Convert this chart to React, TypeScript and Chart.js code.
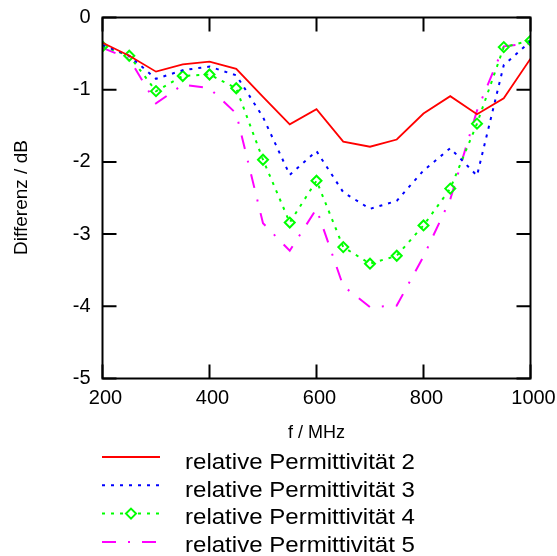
import React, { useEffect, useRef } from "react";
import { Chart, registerables } from "chart.js";

Chart.register(...registerables);

const freqs = [200, 250, 300, 350, 400, 450, 500, 550, 600, 650, 700, 750, 800, 850, 900, 950, 1000];
const eps2 = [-0.35, -0.53, -0.75, -0.65, -0.61, -0.71, -1.1, -1.48, -1.27, -1.72, -1.79, -1.69, -1.33, -1.09, -1.34, -1.12, -0.57];
const eps3 = [-0.38, -0.53, -0.85, -0.73, -0.68, -0.8, -1.38, -2.18, -1.85, -2.42, -2.65, -2.54, -2.12, -1.81, -2.19, -0.66, -0.33];
const eps4 = [-0.4, -0.53, -1.02, -0.81, -0.79, -0.98, -1.97, -2.84, -2.26, -3.18, -3.41, -3.3, -2.88, -2.37, -1.47, -0.41, -0.32];
const eps5 = [-0.42, -0.57, -1.19, -0.93, -0.98, -1.33, -2.85, -3.23, -2.65, -3.72, -4.01, -3.99, -3.31, -2.52, -1.29, -0.4, -0.36];
const seriesNames = [
  "relative Permittivität 2",
  "relative Permittivität 3",
  "relative Permittivität 4",
  "relative Permittivität 5",
];
const xTitle = "f / MHz";
const yTitle = "Differenz / dB";

const FONT = "'Liberation Sans', Arial, Helvetica, sans-serif";

const framePlugin = {
  id: "frameAndLegend",
  afterDatasetsDraw(chart: any) {
    const { ctx, chartArea } = chart;
    const { left, right, top, bottom } = chartArea;
    const xs = chart.scales.x;
    const ys = chart.scales.y;
    ctx.save();
    ctx.strokeStyle = "#000";
    ctx.lineWidth = 2;
    ctx.setLineDash([]);
    ctx.strokeRect(left, top, right - left, bottom - top);
    const tl = 14;
    ctx.beginPath();
    xs.ticks.forEach((t: any) => {
      const px = xs.getPixelForValue(t.value);
      ctx.moveTo(px, bottom);
      ctx.lineTo(px, bottom - tl);
      ctx.moveTo(px, top);
      ctx.lineTo(px, top + tl);
    });
    ys.ticks.forEach((t: any) => {
      const py = ys.getPixelForValue(t.value);
      ctx.moveTo(left, py);
      ctx.lineTo(left + tl, py);
      ctx.moveTo(right, py);
      ctx.lineTo(right - tl, py);
    });
    ctx.stroke();
    ctx.restore();
  },
  afterDraw(chart: any) {
    const { ctx, chartArea } = chart;
    ctx.save();
    ctx.fillStyle = "#000";
    ctx.font = `18px ${FONT}`;
    ctx.textAlign = "center";
    ctx.textBaseline = "alphabetic";
    ctx.fillText(xTitle, (chartArea.left + chartArea.right) / 2, 438);
    ctx.save();
    ctx.translate(27, 197.5);
    ctx.rotate(-Math.PI / 2);
    ctx.font = `19px ${FONT}`;
    ctx.fillText(yTitle, 0, 0);
    ctx.restore();

    const datasets = chart.data.datasets;
    datasets.forEach((ds: any, i: number) => {
      const ly = 457 + 28.3 * i;
      ctx.save();
      ctx.strokeStyle = ds.borderColor;
      ctx.lineWidth = 2;
      ctx.setLineDash(ds.borderDash || []);
      ctx.beginPath();
      ctx.moveTo(102, ly);
      ctx.lineTo(160, ly);
      ctx.stroke();
      if (ds.pointRadius > 0) {
        ctx.setLineDash([]);
        ctx.fillStyle = "#fff";
        const r = 5;
        const cx = 131;
        ctx.beginPath();
        ctx.moveTo(cx, ly - r);
        ctx.lineTo(cx + r, ly);
        ctx.lineTo(cx, ly + r);
        ctx.lineTo(cx - r, ly);
        ctx.closePath();
        ctx.fill();
        ctx.stroke();
      }
      ctx.restore();
      ctx.save();
      ctx.fillStyle = "#000";
      ctx.font = `22px ${FONT}`;
      ctx.textAlign = "left";
      ctx.textBaseline = "alphabetic";
      ctx.translate(185, 469.3 + 27.5 * i);
      const w = ctx.measureText(ds.label).width;
      ctx.scale(230 / w, 1);
      ctx.fillText(ds.label, 0, 0);
      ctx.restore();
    });
    ctx.restore();
  },
};

const zeroPad = (s: any) => {
  s.paddingLeft = 0;
  s.paddingRight = 0;
  s.paddingTop = 0;
  s.paddingBottom = 0;
};

export default function App() {
  const ref = useRef<HTMLCanvasElement | null>(null);
  useEffect(() => {
    if (!ref.current) return;
    const mk = (arr: number[]) => freqs.map((f, i) => ({ x: f, y: arr[i] }));
    const chart = new Chart(ref.current, {
      type: "line",
      data: {
        datasets: [
          {
            label: seriesNames[0],
            data: mk(eps2),
            borderColor: "#ff0000",
            borderWidth: 1.8,
            pointRadius: 0,
            fill: false,
            tension: 0,
          },
          {
            label: seriesNames[1],
            data: mk(eps3),
            borderColor: "#0000ff",
            borderWidth: 2,
            borderDash: [3, 6],
            pointRadius: 0,
            fill: false,
            tension: 0,
          },
          {
            label: seriesNames[2],
            data: mk(eps4),
            borderColor: "#00ff00",
            borderWidth: 2,
            borderDash: [3, 6],
            pointRadius: 5,
            pointStyle: "rectRot",
            pointBorderWidth: 2,
            pointBackgroundColor: "rgba(255,255,255,0)",
            pointBorderColor: "#00ff00",
            fill: false,
            tension: 0,
          },
          {
            label: seriesNames[3],
            data: mk(eps5),
            borderColor: "#ff00ff",
            borderWidth: 2,
            borderDash: [14, 12, 2, 12],
            pointRadius: 0,
            fill: false,
            tension: 0,
          },
        ] as any,
      },
      options: {
        animation: false,
        responsive: false,
        maintainAspectRatio: false,
        events: [],
        layout: { padding: { left: 0, right: 26.5, top: 17.5, bottom: 0 } },
        plugins: {
          legend: { display: false },
          tooltip: { enabled: false },
          title: { display: false },
        },
        scales: {
          x: {
            type: "linear",
            min: 200,
            max: 1000,
            grid: { display: false, drawTicks: false },
            border: { display: false },
            ticks: {
              stepSize: 200,
              color: "#000",
              font: { size: 20, family: FONT },
              padding: 8,
              labelOffset: 3,
              maxRotation: 0,
              autoSkip: false,
              callback: (v: any) => String(v),
            },
            afterFit: (s: any) => {
              s.height = 556 - 378.5;
              zeroPad(s);
            },
          },
          y: {
            type: "linear",
            min: -5,
            max: 0,
            grid: { display: false, drawTicks: false },
            border: { display: false },
            ticks: {
              stepSize: 1,
              color: "#000",
              font: { size: 20, family: FONT },
              padding: 12,
              callback: (v: any) => String(v),
            },
            afterFit: (s: any) => {
              s.width = 102.5;
              zeroPad(s);
            },
          },
        },
      } as any,
      plugins: [framePlugin],
    });
    return () => chart.destroy();
  }, []);
  return (
    <div style={{ position: "fixed", left: 0, top: 0, width: 557, height: 556, background: "#fff" }}>
      <canvas ref={ref} width={557} height={556} style={{ display: "block", width: 557, height: 556 }} />
    </div>
  );
}
